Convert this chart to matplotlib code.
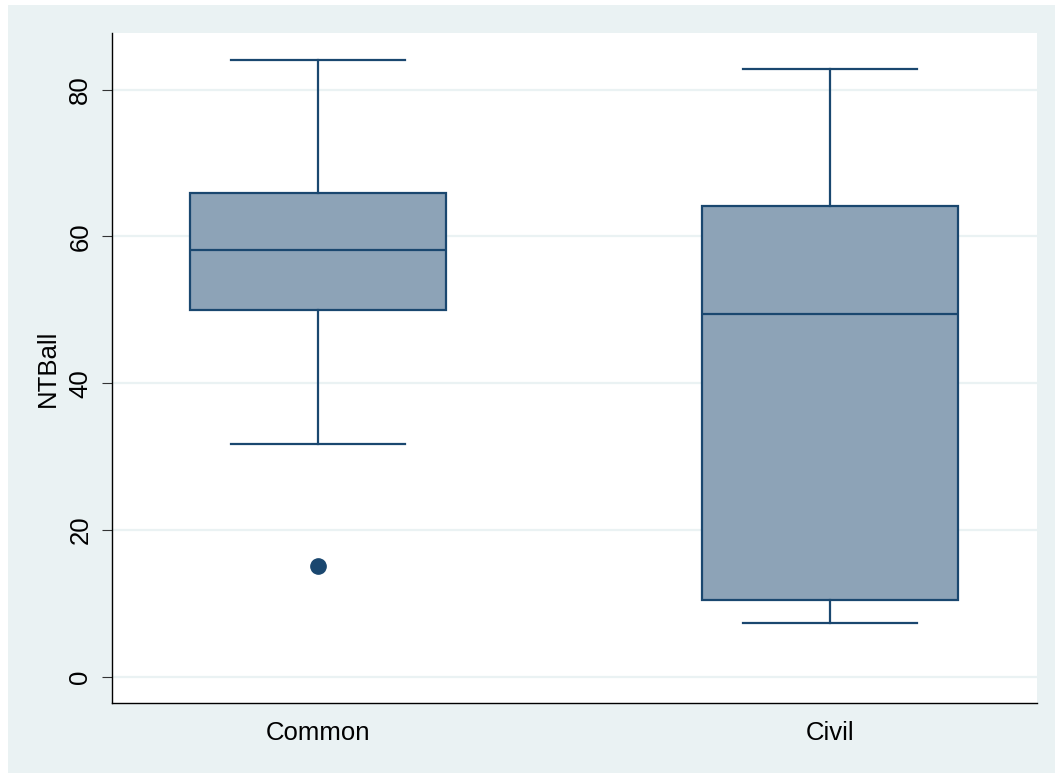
import numpy as np
import matplotlib
matplotlib.use("Agg")
from matplotlib import pyplot as plt
from matplotlib.patches import Rectangle

# box statistics
groups = ["Common", "Civil"]
whislo = [31.7, 7.4]
q1 = [49.95, 10.5]
med = [58.1, 49.4]
q3 = [65.9, 64.2]
whishi = [84.05, 82.8]
fliers = [[15.1], []]

yticks = [0, 20, 40, 60, 80]

navy = "#1a476f"
fill = "#8da3b7"
bgcol = "#eaf2f3"

plt.rcParams["font.family"] = ["Liberation Sans", "DejaVu Sans"]

fig = plt.figure(figsize=(10.55, 7.73), dpi=100, facecolor="white")
fig.patches.append(Rectangle((8 / 1055, 0), 1, 1 - 5 / 773, transform=fig.transFigure,
                             facecolor=bgcol, edgecolor="none", zorder=-10))

W, H = 1055, 773
ax = fig.add_axes([112 / W, 1 - 703 / H, (1037 - 112) / W, (703 - 33) / H])
ax.set_facecolor("white")

stats = []
for i in range(len(groups)):
    stats.append(dict(whislo=whislo[i], q1=q1[i], med=med[i], q3=q3[i],
                      whishi=whishi[i], fliers=fliers[i], label=groups[i]))

lw = 1.6
ax.bxp(stats, positions=[1, 2], widths=0.5, patch_artist=True, capwidths=0.34,
       boxprops=dict(facecolor=fill, edgecolor=navy, linewidth=lw),
       medianprops=dict(color=navy, linewidth=lw),
       whiskerprops=dict(color=navy, linewidth=lw),
       capprops=dict(color=navy, linewidth=lw),
       flierprops=dict(marker="o", markerfacecolor=navy, markeredgecolor=navy,
                       markersize=11, linestyle="none"),
       zorder=3)

ax.set_xlim(0.598, 2.404)
ax.set_ylim(-3.54, 87.7)
ax.set_yticks(yticks)
ax.set_yticklabels([str(t) for t in yticks], rotation=90, va="center", fontsize=18.5)
ax.yaxis.grid(True, color=bgcol, linewidth=1.6, zorder=0)
ax.set_axisbelow(True)
ax.tick_params(axis="y", length=7.2, width=0.8, color="#333333", pad=7)
ax.tick_params(axis="x", length=0, pad=13, labelsize=18.5)
ax.set_ylabel("NTBall", fontsize=18.5, labelpad=6)

for s in ["top", "right"]:
    ax.spines[s].set_visible(False)
for s in ["left", "bottom"]:
    ax.spines[s].set_color("black")
    ax.spines[s].set_linewidth(1.0)

fig.savefig("out.png", dpi=100, facecolor=fig.get_facecolor())
